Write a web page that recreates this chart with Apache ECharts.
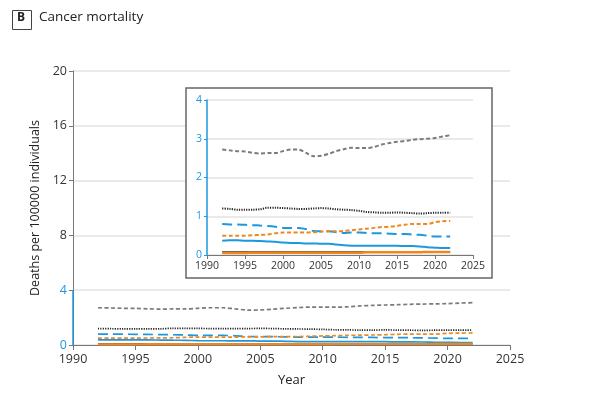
<!DOCTYPE html>
<html><head><meta charset="utf-8">
<script src="https://cdn.jsdelivr.net/npm/echarts@6/dist/echarts.min.js"></script>
<style>html,body{margin:0;padding:0;background:#fff}#c{width:600px;height:412px}</style>
</head><body><div id="c"></div>
<script>
const years = [1992,1993,1994,1995,1996,1997,1998,1999,2000,2001,2002,2003,2004,2005,2006,2007,2008,2009,2010,2011,2012,2013,2014,2015,2016,2017,2018,2019,2020,2021,2022];
const grayDashed = [2.72,2.70,2.68,2.67,2.64,2.62,2.63,2.63,2.68,2.72,2.72,2.64,2.55,2.56,2.61,2.68,2.73,2.77,2.76,2.76,2.79,2.85,2.89,2.92,2.94,2.97,2.99,3.00,3.02,3.06,3.09];
const blackDotted = [1.20,1.19,1.17,1.17,1.17,1.18,1.22,1.22,1.21,1.20,1.19,1.19,1.20,1.21,1.20,1.18,1.17,1.16,1.14,1.11,1.10,1.09,1.09,1.10,1.09,1.08,1.07,1.08,1.09,1.09,1.09];
const blueDashed = [0.80,0.79,0.79,0.78,0.77,0.76,0.75,0.73,0.70,0.70,0.70,0.67,0.62,0.61,0.61,0.59,0.57,0.58,0.58,0.57,0.56,0.56,0.55,0.54,0.54,0.53,0.52,0.50,0.48,0.48,0.48];
const orangeDashed = [0.50,0.50,0.50,0.50,0.51,0.52,0.53,0.56,0.58,0.58,0.58,0.58,0.59,0.60,0.61,0.61,0.62,0.64,0.66,0.68,0.70,0.72,0.73,0.75,0.78,0.80,0.80,0.80,0.85,0.87,0.88];
const blueSolid = [0.37,0.38,0.38,0.37,0.37,0.36,0.35,0.34,0.32,0.31,0.31,0.30,0.30,0.29,0.29,0.27,0.25,0.24,0.24,0.24,0.24,0.24,0.24,0.24,0.23,0.23,0.22,0.20,0.19,0.18,0.18];
const blackSolid = [0.08,0.08,0.08,0.08,0.08,0.08,0.08,0.08,0.08,0.08,0.08,0.08,0.08,0.08,0.08,0.08,0.08,0.08,0.08,0.08,0.08,0.08,0.08,0.08,0.08,0.08,0.08,0.08,0.08,0.08,0.08];
const orangeSolid = [0.05,0.05,0.05,0.05,0.06,0.06,0.06,0.06,0.06,0.06,0.06,0.06,0.06,0.06,0.06,0.06,0.06,0.06,0.06,0.07,0.07,0.07,0.07,0.07,0.07,0.07,0.07,0.08,0.08,0.08,0.08];
const mainYTicks = [0,4,8,12,16,20];
const insetYTicks = [0,1,2,3,4];

const BLUE = '#1b98e0', ORANGE = '#f0861e', GRAY = '#7b7b7b', BLACK = '#222';
const FONT = '"Open Sans", "Noto Sans", sans-serif';
const pair = arr => years.map((y,i)=>[y,arr[i]]);
const plain = v => String(v);

const styles = [
  {d: grayDashed, c: GRAY, t: [4,2.5], w: 2},
  {d: blackDotted, c: BLACK, t: [1.2,1.2], w: 2},
  {d: blueDashed, c: BLUE, t: [10,5], w: 2},
  {d: orangeDashed, c: ORANGE, t: [4,2.5], w: 2},
  {d: blueSolid, c: BLUE, t: 'solid', w: 2},
  {d: blackSolid, c: BLACK, t: 'solid', w: 1.5},
  {d: orangeSolid, c: ORANGE, t: 'solid', w: 2.5}
];

const series = [];
styles.forEach(s => {
  series.push({type:'line', xAxisIndex:0, yAxisIndex:0, data: pair(s.d), showSymbol:false, smooth:0.3,
    lineStyle:{color:s.c, type:s.t, width:s.w*0.85}, z:2, silent:true});
  series.push({type:'line', xAxisIndex:1, yAxisIndex:1, data: pair(s.d), showSymbol:false, smooth:0.3,
    lineStyle:{color:s.c, type:s.t, width:s.w}, z:8, silent:true});
});
series[0].markLine = {silent:true, symbol:'none', label:{show:false},
  lineStyle:{color:BLUE, type:'solid', width:1.5},
  data:[[{coord:[1990,0]},{coord:[1990,4]}]]};

const chart = echarts.init(document.getElementById('c'));
chart.setOption({
  animation:false,
  backgroundColor:'#fff',
  grid:[
    {left:73, right:90, top:71, bottom:67},
    {left:207, right:127, top:100, bottom:157}
  ],
  graphic:[
    {type:'rect', left:12, top:10, shape:{width:19, height:19}, style:{fill:'#fff', stroke:'#444', lineWidth:1}},
    {type:'text', left:17, top:12, style:{text:'B', font:'bold 12px '+FONT, fill:'#222'}},
    {type:'text', left:39, top:10, style:{text:'Cancer mortality', font:'13.5px '+FONT, fill:'#222'}},
    {type:'rect', z:3, shape:{x:186, y:88, width:306, height:190}, style:{fill:'#fff', stroke:'#666', lineWidth:1.5}}
  ],
  xAxis:[
    {type:'value', gridIndex:0, min:1990, max:2025, interval:5,
     name:'Year', nameLocation:'middle', nameGap:29, nameTextStyle:{fontFamily:FONT, fontSize:13, color:'#222'},
     axisLine:{lineStyle:{color:'#777', width:1}}, axisTick:{show:true, length:5, lineStyle:{color:'#777'}},
     axisLabel:{fontFamily:FONT, fontSize:12.5, color:'#333', margin:8, formatter:plain}, splitLine:{show:false}},
    {type:'value', gridIndex:1, min:1990, max:2025, interval:5, z:6,
     axisLine:{lineStyle:{color:'#777', width:1}}, axisTick:{show:true, length:4, lineStyle:{color:'#777'}},
     axisLabel:{fontFamily:FONT, fontSize:10.5, color:'#333', margin:6, formatter:plain}, splitLine:{show:false}}
  ],
  yAxis:[
    {type:'value', gridIndex:0, min:0, max:20, interval:4,
     name:'Deaths per 100000 individuals', nameLocation:'middle', nameGap:26,
     nameTextStyle:{fontFamily:FONT, fontSize:12.5, color:'#222'},
     axisLine:{show:true, lineStyle:{color:'#777', width:1}}, axisTick:{show:true, length:4, lineStyle:{color:'#777'}},
     axisLabel:{fontFamily:FONT, fontSize:12.5, margin:6, formatter:plain, color:(v)=> (v<=4 ? BLUE : '#333')},
     splitLine:{show:true, lineStyle:{color:'#e3e3e3', width:1.5}}},
    {type:'value', gridIndex:1, min:0, max:4, interval:1, z:6,
     axisLine:{show:true, lineStyle:{color:BLUE, width:1.5}}, axisTick:{show:true, length:3, lineStyle:{color:BLUE}},
     axisLabel:{fontFamily:FONT, fontSize:10.5, margin:5, color:BLUE, formatter:plain},
     splitLine:{show:true, lineStyle:{color:'#e3e3e3', width:1.5}}}
  ],
  series: series
});
</script></body></html>
